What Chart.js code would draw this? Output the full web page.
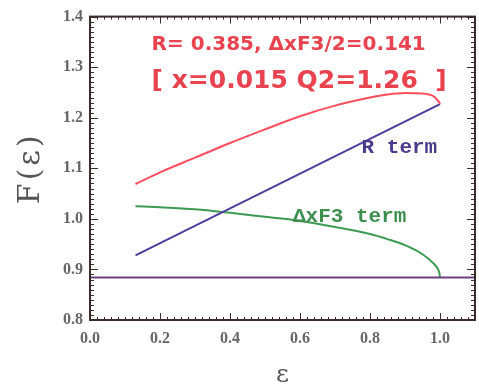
<!DOCTYPE html>
<html><head><meta charset="utf-8">
<script src="https://cdn.jsdelivr.net/npm/chart.js@4.4.1/dist/chart.umd.min.js"></script>
<style>html,body{margin:0;padding:0;background:#fff;}#wrap{width:479px;height:385px;}</style>
</head><body><div id="wrap"><canvas id="c" width="479" height="385"></canvas></div>
<script>
// ---- data ----
const xTicks = [0.0, 0.2, 0.4, 0.6, 0.8, 1.0];
const yTicks = [0.8, 0.9, 1.0, 1.1, 1.2, 1.3, 1.4];
const epsTotal = [0.13, 0.2, 0.3, 0.4, 0.5, 0.6, 0.7, 0.8, 0.85, 0.9, 0.95, 0.98, 0.99, 0.998, 1.0];
const totalVals = [1.069, 1.092, 1.121, 1.150, 1.177, 1.203, 1.224, 1.240, 1.246, 1.249, 1.248, 1.243, 1.237, 1.230, 1.227];
const epsR = [0.13, 1.0];
const rVals = [0.928, 1.227];
const epsF3 = [0.13, 0.2, 0.3, 0.4, 0.5, 0.6, 0.7, 0.8, 0.85, 0.9, 0.95, 0.98, 0.99, 0.998, 1.0];
const f3Vals = [1.025, 1.023, 1.019, 1.012, 1.004, 0.996, 0.984, 0.970, 0.960, 0.948, 0.930, 0.913, 0.905, 0.894, 0.884];
const epsBase = [0.0, 1.1];
const baseVals = [0.884, 0.884];
const line1 = "R= 0.385, \u0394xF3/2=0.141";
const line2 = "[ x=0.015 Q2=1.26  ]";
const labelR = "R term";
const labelF3 = "\u0394xF3 term";
const xTitle = "\u03b5";
const yTitle = "F(\u03b5)";

const pts = (xs, ys) => xs.map((x, i) => ({x, y: ys[i]}));

const frameTicks = {
  id: 'frameTicks',
  afterDatasetsDraw(chart) {
    const {ctx, chartArea: a, scales: {x, y}} = chart;
    ctx.save();
    ctx.strokeStyle = '#3b2b2b';
    ctx.lineWidth = 1;
    ctx.beginPath();
    for (let i = 0; i <= 55; i++) {
      const v = i * 0.02;
      const px = Math.round(x.getPixelForValue(v)) + 0.5;
      const major = i % 10 === 0;
      const L = major ? 7 : 3;
      ctx.moveTo(px, a.bottom); ctx.lineTo(px, a.bottom - L);
      ctx.moveTo(px, a.top); ctx.lineTo(px, a.top + L);
    }
    for (let i = 0; i <= 60; i++) {
      const v = 0.8 + i * 0.01;
      const py = Math.round(y.getPixelForValue(v)) + 0.5;
      const major = i % 10 === 0;
      const L = major ? 8 : 4;
      ctx.moveTo(a.left, py); ctx.lineTo(a.left + L, py);
      ctx.moveTo(a.right, py); ctx.lineTo(a.right - L, py);
    }
    ctx.stroke();
    ctx.lineWidth = 2;
    ctx.strokeRect(a.left, a.top, a.right - a.left, a.bottom - a.top);

    // annotations
    ctx.fillStyle = '#e8434f';
    ctx.textBaseline = 'alphabetic';
    ctx.textAlign = 'left';
    ctx.font = 'bold 20px "DejaVu Sans", sans-serif';
    ctx.fillText(line1, x.getPixelForValue(0.176), y.getPixelForValue(1.333));
    ctx.font = 'bold 25px "DejaVu Sans", sans-serif';
    ctx.fillText(line2, x.getPixelForValue(0.176), y.getPixelForValue(1.258));
    ctx.font = 'bold 21px "Liberation Mono", monospace';
    ctx.fillStyle = '#4a3a8c';
    ctx.fillText(labelR, x.getPixelForValue(0.776), y.getPixelForValue(1.130));
    ctx.fillStyle = '#3d8f4e';
    ctx.fillText(labelF3, x.getPixelForValue(0.58), y.getPixelForValue(0.994));

    // axis titles
    ctx.fillStyle = '#555';
    ctx.textAlign = 'center';
    ctx.textBaseline = 'middle';
    ctx.font = '25px "DejaVu Serif", serif';
    ctx.fillText(xTitle, (a.left + a.right) / 2, 375);
    ctx.translate(31, (a.top + a.bottom) / 2);
    ctx.rotate(-Math.PI / 2);
    ctx.font = '30px "DejaVu Serif", serif';
    ctx.letterSpacing = '3px';
    ctx.fillText(yTitle, 0, 0);
    ctx.restore();
  }
};

new Chart(document.getElementById('c'), {
  type: 'scatter',
  data: {
    datasets: [
      {data: pts(epsBase, baseVals), borderColor: '#6e3f80', borderWidth: 2, showLine: true, pointRadius: 0, tension: 0},
      {data: pts(epsTotal, totalVals), borderColor: '#ff4f5e', borderWidth: 2, showLine: true, pointRadius: 0, cubicInterpolationMode: 'monotone'},
      {data: pts(epsR, rVals), borderColor: '#4e3c9e', borderWidth: 2, showLine: true, pointRadius: 0},
      {data: pts(epsF3, f3Vals), borderColor: '#3d9a52', borderWidth: 2, showLine: true, pointRadius: 0, cubicInterpolationMode: 'monotone'}
    ]
  },
  options: {
    responsive: false,
    animation: false,
    layout: {padding: {top: 13, right: 4, left: 0, bottom: 0}},
    plugins: {legend: {display: false}, tooltip: {enabled: false}},
    scales: {
      x: {
        type: 'linear', min: 0, max: 1.1,
        afterBuildTicks: s => { s.ticks = xTicks.map(v => ({value: v})); },
        afterFit: s => { s.height = 65; },
        grid: {display: false, drawTicks: false},
        border: {display: false},
        ticks: {color: '#666', padding: 9, maxRotation: 0, font: {family: '"Liberation Serif", serif', size: 16, weight: 'bold'}, callback: v => v.toFixed(1)},
        title: {display: false}
      },
      y: {
        type: 'linear', min: 0.8, max: 1.4,
        afterBuildTicks: s => { s.ticks = yTicks.map(v => ({value: v})); },
        afterFit: s => { s.width = 90; },
        grid: {display: false, drawTicks: false},
        border: {display: false},
        ticks: {color: '#666', padding: 7, font: {family: '"Liberation Serif", serif', size: 16, weight: 'bold'}, callback: v => v.toFixed(1)},
        title: {display: false}
      }
    }
  },
  plugins: [frameTicks]
});
</script></body></html>
